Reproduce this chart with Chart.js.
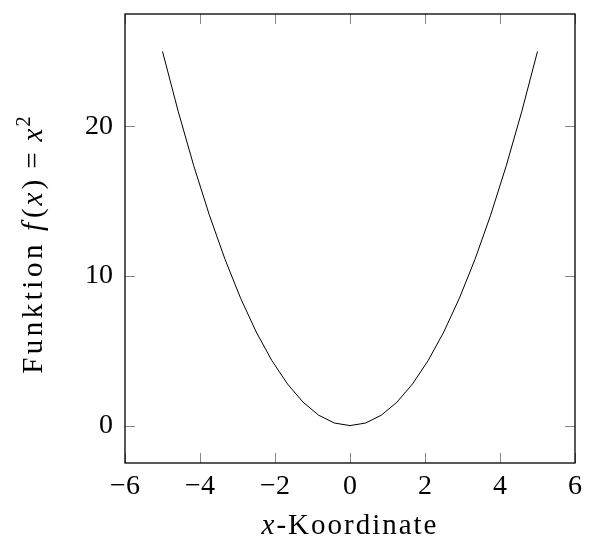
<!DOCTYPE html>
<html>
<head>
<meta charset="utf-8">
<script src="https://cdn.jsdelivr.net/npm/chart.js@4"></script>
<style>
  html, body { margin: 0; padding: 0; background: #fff; }
  #wrap { width: 589px; height: 546px; }
</style>
</head>
<body>
<div id="wrap"><canvas id="chart" width="589" height="546"></canvas></div>
<script>
// sampled points of the curve (25 samples from -5 to 5)
const xValues = [-5, -4.583, -4.167, -3.75, -3.333, -2.917, -2.5, -2.083, -1.667, -1.25, -0.833, -0.417,
  0, 0.417, 0.833, 1.25, 1.667, 2.083, 2.5, 2.917, 3.333, 3.75, 4.167, 4.583, 5];
const yValues = [25, 21.01, 17.36, 14.06, 11.11, 8.51, 6.25, 4.34, 2.78, 1.56, 0.69, 0.17,
  0, 0.17, 0.69, 1.56, 2.78, 4.34, 6.25, 8.51, 11.11, 14.06, 17.36, 21.01, 25];
const xTicks = [-6, -4, -2, 0, 2, 4, 6];
const yTicks = [0, 10, 20];

const FONT = '"Liberation Serif", "DejaVu Serif", serif';
const fmt = (v) => (v < 0 ? '\u2212' + Math.abs(v) : String(v));

// drop the label overhang padding so the plot box sits where we want it
function noPad(s) {
  s.paddingLeft = 0; s.paddingRight = 0; s.paddingTop = 0; s.paddingBottom = 0;
}

// box, inward ticks on all sides, axis titles with mixed italic text
const framePlugin = {
  id: 'frame',
  afterDraw(chart) {
    const { ctx, chartArea: a, scales } = chart;
    const tl = 10;
    ctx.save();
    ctx.strokeStyle = '#888';
    ctx.lineWidth = 1;
    ctx.beginPath();
    xTicks.forEach((t) => {
      const px = Math.round(scales.x.getPixelForValue(t)) + 0.5;
      ctx.moveTo(px, a.bottom); ctx.lineTo(px, a.bottom - tl);
      ctx.moveTo(px, a.top); ctx.lineTo(px, a.top + tl);
    });
    yTicks.forEach((t) => {
      const py = Math.round(scales.y.getPixelForValue(t)) + 0.5;
      ctx.moveTo(a.left, py); ctx.lineTo(a.left + tl, py);
      ctx.moveTo(a.right, py); ctx.lineTo(a.right - tl, py);
    });
    ctx.stroke();

    ctx.strokeStyle = '#000';
    ctx.lineWidth = 1.3;
    ctx.strokeRect(a.left, a.top, a.right - a.left, a.bottom - a.top);

    ctx.fillStyle = '#000';
    ctx.textBaseline = 'alphabetic';
    ctx.textAlign = 'left';
    const roman = '29px ' + FONT;
    const ital = 'italic 29px ' + FONT;
    const sup = '21px ' + FONT;

    function drawRuns(runs, cx, cy) {
      let total = 0;
      runs.forEach((r) => {
        ctx.font = r.font;
        ctx.letterSpacing = (r.ls || 0) + 'px';
        r.w = ctx.measureText(r.text).width + (r.gap || 0);
        total += r.w;
      });
      let x = cx - total / 2;
      runs.forEach((r) => {
        ctx.font = r.font;
        ctx.letterSpacing = (r.ls || 0) + 'px';
        ctx.fillText(r.text, x, cy - (r.rise || 0));
        x += r.w;
      });
      ctx.letterSpacing = '0px';
    }

    // x title
    drawRuns([
      { text: 'x', font: ital, gap: 2 },
      { text: '-Koordinate', font: roman, ls: 2 },
    ], (a.left + a.right) / 2, 534);

    // y title
    ctx.translate(42, 245);
    ctx.rotate(-Math.PI / 2);
    drawRuns([
      { text: 'Funktion', font: roman, ls: 3.5, gap: 10 },
      { text: 'f', font: ital, gap: 5 },
      { text: '(', font: roman, gap: 3 },
      { text: 'x', font: ital, gap: 3 },
      { text: ')', font: roman, gap: 11 },
      { text: '=', font: roman, gap: 11 },
      { text: 'x', font: ital, gap: 2 },
      { text: '2', font: sup, rise: 12 },
    ], 0, 0);
    ctx.restore();
  }
};

new Chart(document.getElementById('chart'), {
  type: 'scatter',
  data: {
    datasets: [{
      data: xValues.map((x, i) => ({ x, y: yValues[i] })),
      showLine: true,
      borderColor: '#000',
      borderWidth: 1,
      pointRadius: 0,
      tension: 0,
    }],
  },
  options: {
    responsive: false,
    animation: false,
    layout: { padding: { top: 14, right: 14, left: 0, bottom: 0 } },
    plugins: { legend: { display: false }, tooltip: { enabled: false } },
    scales: {
      x: {
        type: 'linear',
        min: -6,
        max: 6,
        afterBuildTicks: (s) => { s.ticks = xTicks.map((v) => ({ value: v })); },
        afterFit: (s) => { s.height = 83; noPad(s); },
        grid: { display: false, drawTicks: false },
        border: { display: false },
        ticks: { color: '#000', font: { family: FONT, size: 28 }, padding: 7, callback: fmt, maxRotation: 0 },
      },
      y: {
        type: 'linear',
        min: -2.5,
        max: 27.5,
        afterBuildTicks: (s) => { s.ticks = yTicks.map((v) => ({ value: v })); },
        afterFit: (s) => { s.width = 125; noPad(s); },
        grid: { display: false, drawTicks: false },
        border: { display: false },
        ticks: { color: '#000', font: { family: FONT, size: 28 }, padding: 12, callback: fmt },
      },
    },
  },
  plugins: [framePlugin],
});
</script>
</body>
</html>
